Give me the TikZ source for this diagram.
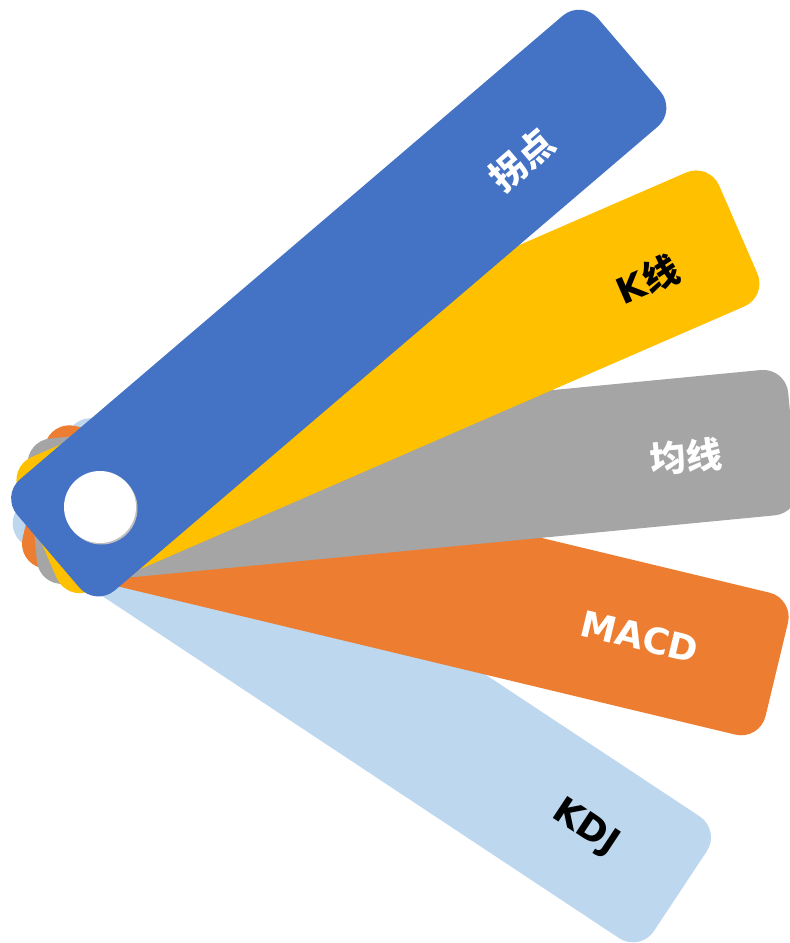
\documentclass[tikz,border=0pt]{standalone}
\usepackage{fontspec}
\setmainfont{DejaVu Sans}
\newfontfamily\cjk{Noto Sans CJK SC}
\definecolor{swblue}{HTML}{4472C4}
\definecolor{swyellow}{HTML}{FFC000}
\definecolor{swgray}{HTML}{A5A5A5}
\definecolor{sworange}{HTML}{ED7D31}
\definecolor{swlight}{HTML}{BDD7EE}

\begin{document}
\begin{tikzpicture}[x=1pt,y=1pt,
      blade/.style={rounded corners=25pt},
      tag/.style={font=\fontsize{36}{40}\selectfont\bfseries, inner sep=0pt}
      ]
      \useasboundingbox (0,0) rectangle (790,943);
      \clip (0,0) rectangle (790,943);
      \coordinate (pivot) at (100,436);

      % blades, back to front
      \foreach \ang/\col/\txt/\tcol/\dist/\off [count=\i] in
        {-33.5/swlight/KDJ/black/582/0,
         -13.5/sworange/MACD/white/555/0,
         5.5/swgray/{\cjk\bfseries 均线}/white/588/-6,
         23.5/swyellow/{K{\cjk\bfseries 线}}/black/593/-10,
         40.5/swblue/{\cjk\bfseries 拐点}/white/546/-10}
      {
        \begin{scope}[shift={(pivot)}, rotate=\ang]
          \fill[blade, \col] (-68,-73) rectangle (696,73);
          \node[tag, text=\tcol, rotate=\ang] (tag\i) at (\dist,\off) {\txt};
        \end{scope}
      }

      % hole
      \fill[black!25] (101.5,434.5) circle (36);
      \fill[white] (pivot) circle (36);
    \end{tikzpicture}
\end{document}
